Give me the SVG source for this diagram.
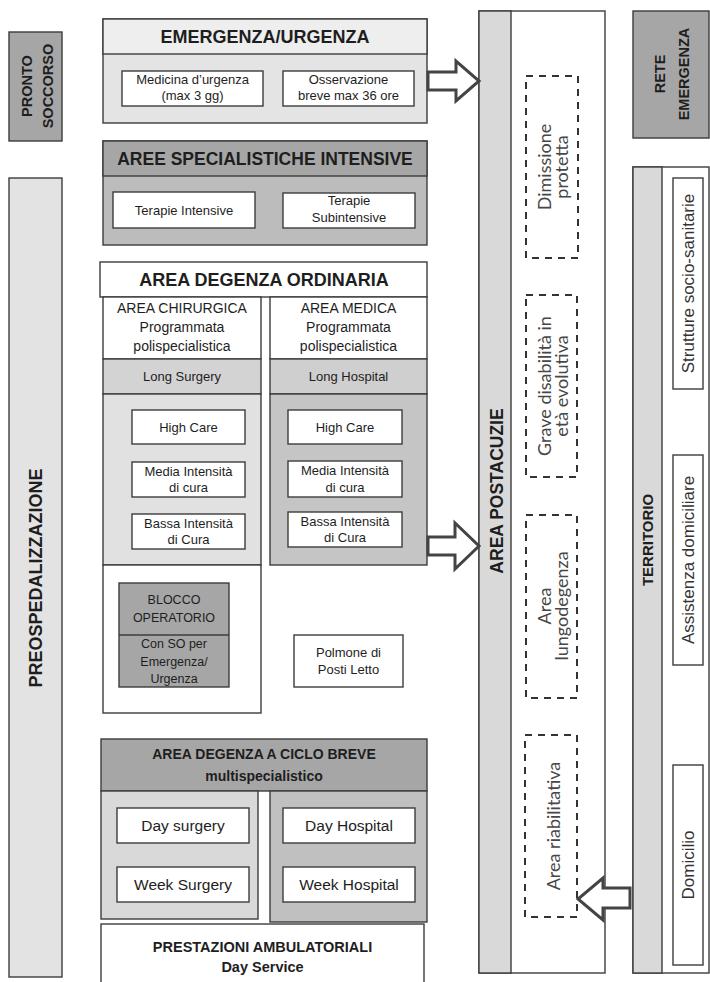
<svg xmlns="http://www.w3.org/2000/svg" width="710" height="982" viewBox="0 0 710 982">
<style>
.box{stroke:#3c3c3c;stroke-width:1.4}
.w{fill:#fff}
.t{font-family:"Liberation Sans",Arial,sans-serif;fill:#1e1e1e;text-anchor:middle;font-size:13px}
.b{font-weight:bold}
.lt{font-family:Lato,"Open Sans",sans-serif;font-weight:400;fill:#474747;font-size:18px;text-anchor:middle}
.dash{fill:none;stroke:#333;stroke-width:2;stroke-dasharray:7 6}
.arrow{fill:#fff;stroke:#444;stroke-width:3;stroke-linejoin:miter}
</style>
<rect width="710" height="982" fill="#fff"/>

<!-- left side bands -->
<g id="pronto-soccorso">
  <rect class="box" x="9" y="32" width="53" height="109" fill="#a6a6a6"/>
  <g transform="translate(0,86) rotate(-90)">
    <text class="t b" style="font-size:14.5px" x="0" y="32">PRONTO</text>
    <text class="t b" style="font-size:14.5px" x="0" y="53">SOCCORSO</text>
  </g>
</g>
<g id="preospedalizzazione">
  <rect class="box" x="9" y="178" width="53" height="799" fill="#e3e3e3"/>
  <text class="t b" style="font-size:18px" transform="translate(0,578) rotate(-90)" x="0" y="42">PREOSPEDALIZZAZIONE</text>
</g>

<!-- emergenza / urgenza -->
<g id="emergenza-urgenza">
  <rect class="box" x="103" y="19" width="324" height="104" fill="#e4e4e4"/>
  <rect class="box" x="103" y="19" width="324" height="35" fill="#eeeeee"/>
  <text class="t b" style="font-size:18px" x="265" y="43">EMERGENZA/URGENZA</text>
  <g id="medicina-urgenza">
    <rect class="box w" x="122" y="71" width="141" height="35"/>
    <text class="t" x="192.5" y="84">Medicina d’urgenza</text>
    <text class="t" x="192.5" y="100">(max 3 gg)</text>
  </g>
  <g id="osservazione-breve">
    <rect class="box w" x="283" y="71" width="131" height="35"/>
    <text class="t" x="348.5" y="84">Osservazione</text>
    <text class="t" x="348.5" y="100">breve max 36 ore</text>
  </g>
</g>

<!-- aree specialistiche intensive -->
<g id="aree-intensive">
  <rect class="box" x="103" y="141" width="324" height="104" fill="#bcbcbc"/>
  <rect class="box" x="103" y="141" width="324" height="35" fill="#a6a6a6"/>
  <text class="t b" style="font-size:17.5px" x="265" y="165">AREE SPECIALISTICHE INTENSIVE</text>
  <g id="terapie-intensive">
    <rect class="box w" x="113" y="192" width="142" height="36"/>
    <text class="t" x="184" y="214.5">Terapie Intensive</text>
  </g>
  <g id="terapie-subintensive">
    <rect class="box w" x="283" y="193" width="132" height="35"/>
    <text class="t" x="349" y="205">Terapie</text>
    <text class="t" x="349" y="222">Subintensive</text>
  </g>
</g>

<!-- area degenza ordinaria -->
<g id="degenza-ordinaria">
  <rect class="box w" x="100" y="262" width="327" height="35"/>
  <text class="t b" style="font-size:18px" x="264" y="286">AREA DEGENZA ORDINARIA</text>
</g>
<g id="area-chirurgica">
  <rect class="box w" x="103" y="297" width="158" height="62"/>
  <text class="t" style="font-size:14px" x="182" y="313">AREA CHIRURGICA</text>
  <text class="t" style="font-size:14px" x="182" y="332">Programmata</text>
  <text class="t" style="font-size:14px" x="182" y="351">polispecialistica</text>
  <rect class="box" x="103" y="359" width="158" height="35" fill="#d3d3d3"/>
  <text class="t" x="182" y="381">Long Surgery</text>
  <rect class="box" x="103" y="394" width="158" height="171" fill="#e1e1e1"/>
  <g id="high-care-s">
    <rect class="box w" x="132" y="410" width="113" height="34"/>
    <text class="t" x="188.5" y="431.5">High Care</text>
  </g>
  <g id="media-s">
    <rect class="box w" x="132" y="462" width="113" height="35"/>
    <text class="t" x="188.5" y="475.5">Media Intensità</text>
    <text class="t" x="188.5" y="492">di cura</text>
  </g>
  <g id="bassa-s">
    <rect class="box w" x="132" y="514" width="113" height="35"/>
    <text class="t" x="188.5" y="527.5">Bassa Intensità</text>
    <text class="t" x="188.5" y="544">di Cura</text>
  </g>
</g>
<g id="area-medica">
  <rect class="box w" x="270" y="297" width="157" height="62"/>
  <text class="t" style="font-size:14px" x="348.5" y="313">AREA MEDICA</text>
  <text class="t" style="font-size:14px" x="348.5" y="332">Programmata</text>
  <text class="t" style="font-size:14px" x="348.5" y="351">polispecialistica</text>
  <rect class="box" x="270" y="359" width="157" height="35" fill="#cfcfcf"/>
  <text class="t" x="348.5" y="381">Long Hospital</text>
  <rect class="box" x="270" y="394" width="157" height="171" fill="#c5c5c5"/>
  <g id="high-care-m">
    <rect class="box w" x="288" y="410" width="114" height="34"/>
    <text class="t" x="345" y="431.5">High Care</text>
  </g>
  <g id="media-m">
    <rect class="box w" x="288" y="461" width="114" height="36"/>
    <text class="t" x="345" y="475">Media Intensità</text>
    <text class="t" x="345" y="491.5">di cura</text>
  </g>
  <g id="bassa-m">
    <rect class="box w" x="288" y="512" width="114" height="35"/>
    <text class="t" x="345" y="525.5">Bassa Intensità</text>
    <text class="t" x="345" y="542">di Cura</text>
  </g>
</g>
<g id="blocco-operatorio">
  <rect class="box w" x="103" y="565" width="158" height="148"/>
  <rect class="box" x="119" y="583" width="110" height="104" fill="#a6a6a6"/>
  <line class="box" x1="119" y1="635" x2="229" y2="635"/>
  <text class="t" style="font-size:12.5px" x="174" y="604">BLOCCO</text>
  <text class="t" style="font-size:12.5px" x="174" y="622">OPERATORIO</text>
  <text class="t" style="font-size:12.5px" x="174" y="648">Con SO per</text>
  <text class="t" style="font-size:12.5px" x="174" y="666">Emergenza/</text>
  <text class="t" style="font-size:12.5px" x="174" y="683">Urgenza</text>
</g>
<g id="polmone-posti-letto">
  <rect class="box w" x="294" y="635" width="109" height="52"/>
  <text class="t" x="348.5" y="657">Polmone di</text>
  <text class="t" x="348.5" y="674">Posti Letto</text>
</g>

<!-- area degenza a ciclo breve -->
<g id="ciclo-breve">
  <rect class="box" x="101" y="739" width="326" height="52" fill="#a6a6a6"/>
  <text class="t b" style="font-size:14px" x="264" y="759">AREA DEGENZA A CICLO BREVE</text>
  <text class="t b" style="font-size:14px" x="264" y="781">multispecialistico</text>
</g>
<g id="ciclo-surgery">
  <rect class="box" x="101" y="791" width="157" height="128" fill="#d9d9d9"/>
  <rect class="box w" x="117" y="808" width="132" height="35"/>
  <text class="t" style="font-size:15.5px" x="183" y="831">Day surgery</text>
  <rect class="box w" x="117" y="867" width="132" height="35"/>
  <text class="t" style="font-size:15.5px" x="183" y="890">Week Surgery</text>
</g>
<g id="ciclo-hospital">
  <rect class="box" x="270" y="791" width="157" height="131" fill="#c0c0c0"/>
  <rect class="box w" x="283" y="808" width="132" height="35"/>
  <text class="t" style="font-size:15.5px" x="349" y="831">Day Hospital</text>
  <rect class="box w" x="283" y="867" width="132" height="35"/>
  <text class="t" style="font-size:15.5px" x="349" y="890">Week Hospital</text>
</g>
<g id="prestazioni-ambulatoriali">
  <rect class="box w" x="101" y="924" width="323" height="80"/>
  <text class="t b" style="font-size:14.5px" x="262.5" y="952">PRESTAZIONI AMBULATORIALI</text>
  <text class="t b" style="font-size:14.5px" x="262.5" y="972">Day Service</text>
</g>

<!-- area postacuzie -->
<g id="area-postacuzie">
  <rect class="box w" x="479" y="11" width="126" height="962"/>
  <rect class="box" x="479" y="11" width="32" height="962" fill="#d9d9d9"/>
  <text class="t b" style="font-size:17.5px" transform="translate(0,491) rotate(-90)" x="0" y="503">AREA POSTACUZIE</text>
</g>
<g id="dimissione-protetta">
  <rect class="dash" x="526" y="76" width="52" height="182"/>
  <g transform="translate(0,167) rotate(-90)">
    <text class="lt" x="0" y="551">Dimissione</text>
    <text class="lt" x="0" y="568">protetta</text>
  </g>
</g>
<g id="grave-disabilita">
  <rect class="dash" x="526" y="295" width="51" height="182"/>
  <g transform="translate(0,386) rotate(-90)">
    <text class="lt" x="0" y="551">Grave disabilità in</text>
    <text class="lt" x="0" y="568">età evolutiva</text>
  </g>
</g>
<g id="area-lungodegenza">
  <rect class="dash" x="526" y="515" width="51" height="183"/>
  <g transform="translate(0,606) rotate(-90)">
    <text class="lt" x="0" y="551">Area</text>
    <text class="lt" x="0" y="568">lungodegenza</text>
  </g>
</g>
<g id="area-riabilitativa">
  <rect class="dash" x="525" y="735" width="52" height="182"/>
  <text class="lt" transform="translate(0,826) rotate(-90)" x="0" y="560">Area riabilitativa</text>
</g>

<!-- right side -->
<g id="rete-emergenza">
  <rect class="box" x="633" y="11" width="76" height="127" fill="#a6a6a6"/>
  <g transform="translate(0,74) rotate(-90)">
    <text class="t b" style="font-size:14.5px" x="0" y="665">RETE</text>
    <text class="t b" style="font-size:14.5px" x="0" y="689">EMERGENZA</text>
  </g>
</g>
<g id="territorio">
  <rect class="box w" x="633" y="167" width="76" height="806"/>
  <rect class="box" x="633" y="167" width="29" height="806" fill="#d9d9d9"/>
  <text class="t b" style="font-size:15px" transform="translate(0,540) rotate(-90)" x="0" y="653">TERRITORIO</text>
  <g id="strutture">
    <rect class="box w" x="673" y="178" width="30" height="211"/>
    <text class="t" style="font-size:17px;fill:#333" transform="translate(0,283.5) rotate(-90)" x="0" y="694">Strutture socio-sanitarie</text>
  </g>
  <g id="assistenza">
    <rect class="box w" x="673" y="455" width="30" height="210"/>
    <text class="t" style="font-size:17px;fill:#333" transform="translate(0,560) rotate(-90)" x="0" y="694">Assistenza domiciliare</text>
  </g>
  <g id="domicilio">
    <rect class="box w" x="673" y="765" width="30" height="200"/>
    <text class="t" style="font-size:17px;fill:#333" transform="translate(0,865) rotate(-90)" x="0" y="694">Domicilio</text>
  </g>
</g>

<!-- flow arrows -->
<g id="connectors">
  <path class="arrow" d="M428,72 H456 V61 L479,81 L456,101 V90 H428 Z"/>
  <path class="arrow" d="M428,537 H455 V523 L479,546 L455,569 V555 H428 Z"/>
  <path class="arrow" d="M630,888 H603 V878 L578,899 L603,920 V908 H630 Z"/>
</g>
</svg>
